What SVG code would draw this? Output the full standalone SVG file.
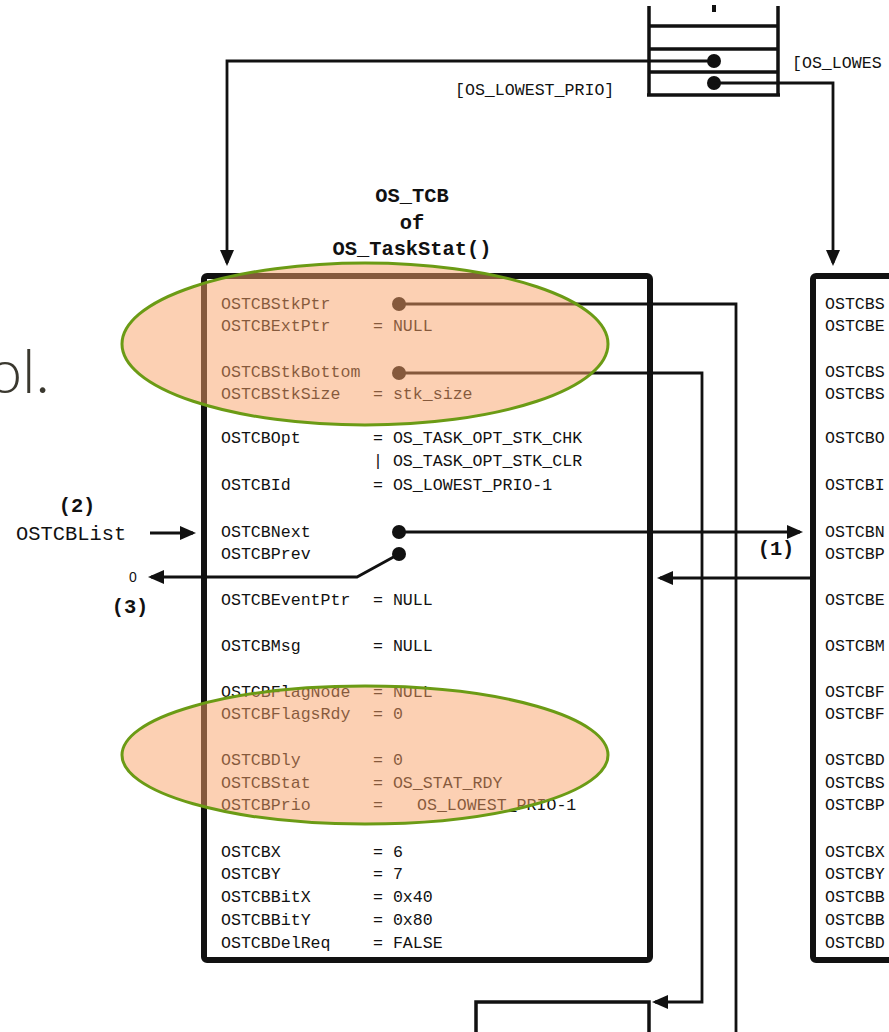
<svg xmlns="http://www.w3.org/2000/svg" width="889" height="1032" viewBox="0 0 889 1032">
<style>
.t{font-family:"Liberation Mono","Courier New",monospace;font-size:16.6px;fill:#111}
.b{font-family:"Liberation Mono","Courier New",monospace;font-size:20.4px;font-weight:bold;fill:#111}
.l{font-family:"Liberation Mono","Courier New",monospace;font-size:20.4px;fill:#111}
.box{fill:#fff;stroke:#111;stroke-width:6}
.arr{fill:none;stroke:#111;stroke-width:3.5}
.c{fill:none;stroke:#111;stroke-width:2.8}
.ca{fill:none;stroke:#111;stroke-width:2.8;marker-end:url(#ah)}
.dot{fill:#111}
.hl{fill:rgb(249,161,104);fill-opacity:0.5;stroke:#6b9b15;stroke-width:3}
</style>
<defs>
<marker id="ah" viewBox="0 0 16 14" refX="13" refY="7" markerWidth="16" markerHeight="14" markerUnits="userSpaceOnUse" orient="auto">
<path d="M0,0 L16,7 L0,14 z" fill="#111"/>
</marker>
</defs>
<rect width="889" height="1032" fill="#fff"/>
<text x="-12" y="393" style="font-family:Lato,'Open Sans',sans-serif;font-size:61px;font-weight:300;fill:#3a382f">ol.</text>

<g id="prio-table">
<path class="arr" d="M649,6 V95 M778,6 V95 M649,26 H778 M649,49 H778 M649,72 H778 M647,95 H780"/>
<rect x="712" y="5" width="4" height="7" fill="#111"/>
<circle class="dot" cx="714" cy="61" r="7"/>
<circle class="dot" cx="714" cy="83" r="7"/>
<text class="t" x="455" y="95">[OS_LOWEST_PRIO]</text>
<text class="t" x="792" y="68">[OS_LOWES</text>
</g>

<g id="title">
<text class="b" x="412" y="202" text-anchor="middle">OS_TCB</text>
<text class="b" x="412" y="229" text-anchor="middle">of</text>
<text class="b" x="412" y="255" text-anchor="middle">OS_TaskStat()</text>
</g>

<g id="tcb-left">
<rect class="box" x="204" y="276" width="446" height="684" rx="3"/>
<g class="t">
<text x="221" y="309">OSTCBStkPtr</text>
<text x="221" y="331">OSTCBExtPtr</text><text x="373" y="331">= NULL</text>
<text x="221" y="377">OSTCBStkBottom</text>
<text x="221" y="399">OSTCBStkSize</text><text x="373" y="399">= stk_size</text>
<text x="221" y="443">OSTCBOpt</text><text x="373" y="443">= OS_TASK_OPT_STK_CHK</text>
<text x="373" y="466">| OS_TASK_OPT_STK_CLR</text>
<text x="221" y="490">OSTCBId</text><text x="373" y="490">= OS_LOWEST_PRIO-1</text>
<text x="221" y="537">OSTCBNext</text>
<text x="221" y="559">OSTCBPrev</text>
<text x="221" y="605">OSTCBEventPtr</text><text x="373" y="605">= NULL</text>
<text x="221" y="651">OSTCBMsg</text><text x="373" y="651">= NULL</text>
<text x="221" y="697">OSTCBFlagNode</text><text x="373" y="697">= NULL</text>
<text x="221" y="719">OSTCBFlagsRdy</text><text x="373" y="719">= 0</text>
<text x="221" y="765">OSTCBDly</text><text x="373" y="765">= 0</text>
<text x="221" y="788">OSTCBStat</text><text x="373" y="788">= OS_STAT_RDY</text>
<text x="221" y="810">OSTCBPrio</text><text x="373" y="810">=</text><text x="417" y="810">OS_LOWEST_PRIO-1</text>
<text x="221" y="857">OSTCBX</text><text x="373" y="857">= 6</text>
<text x="221" y="879">OSTCBY</text><text x="373" y="879">= 7</text>
<text x="221" y="902">OSTCBBitX</text><text x="373" y="902">= 0x40</text>
<text x="221" y="925">OSTCBBitY</text><text x="373" y="925">= 0x80</text>
<text x="221" y="948">OSTCBDelReq</text><text x="373" y="948">= FALSE</text>
</g>
<circle class="dot" cx="399" cy="304" r="7"/>
<circle class="dot" cx="399" cy="373" r="7"/>
<circle class="dot" cx="399" cy="532" r="7"/>
<circle class="dot" cx="399" cy="554" r="7"/>
</g>

<g id="tcb-right">
<rect class="box" x="813" y="276" width="200" height="684" rx="3"/>
<g class="t">
<text x="825" y="309">OSTCBS</text>
<text x="825" y="331">OSTCBE</text>
<text x="825" y="377">OSTCBS</text>
<text x="825" y="399">OSTCBS</text>
<text x="825" y="443">OSTCBO</text>
<text x="825" y="490">OSTCBI</text>
<text x="825" y="537">OSTCBN</text>
<text x="825" y="559">OSTCBP</text>
<text x="825" y="605">OSTCBE</text>
<text x="825" y="651">OSTCBM</text>
<text x="825" y="697">OSTCBF</text>
<text x="825" y="719">OSTCBF</text>
<text x="825" y="765">OSTCBD</text>
<text x="825" y="788">OSTCBS</text>
<text x="825" y="810">OSTCBP</text>
<text x="825" y="857">OSTCBX</text>
<text x="825" y="879">OSTCBY</text>
<text x="825" y="902">OSTCBB</text>
<text x="825" y="925">OSTCBB</text>
<text x="825" y="948">OSTCBD</text>
</g>
</g>

<g id="stack-box">
<path class="arr" d="M476,1040 V1002 H649 V1040"/>
</g>

<g id="labels">
<text class="b" x="77" y="512" text-anchor="middle">(2)</text>
<text class="l" x="16" y="540">OSTCBList</text>
<text x="133" y="582" text-anchor="middle" style="font-family:'Liberation Sans',Arial,sans-serif;font-size:14px;fill:#111">0</text>
<text class="b" x="130" y="613" text-anchor="middle">(3)</text>
<text class="b" x="776" y="555" text-anchor="middle">(1)</text>
</g>

<g id="connectors">
<path class="ca" d="M714,61 H227 V263"/>
<path class="ca" d="M714,83 H833 V263"/>
<path class="ca" d="M150,533 H193"/>
<path class="ca" d="M399,532 H800"/>
<path class="ca" d="M399,554 L357,577 H151"/>
<path class="ca" d="M813,578 H660"/>
<path class="c" d="M399,304 H736 V1040"/>
<path class="ca" d="M399,373 H702 V1002 H655"/>
</g>

<g id="highlights">
<ellipse class="hl" cx="365" cy="344" rx="243" ry="81"/>
<ellipse class="hl" cx="365" cy="755" rx="243" ry="69"/>
</g>
</svg>
